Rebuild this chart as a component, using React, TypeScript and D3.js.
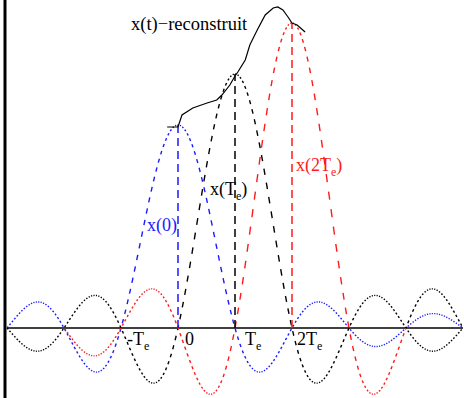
import React from "react";
import * as d3 from "d3";

// Sampling instants (in units of Te) and sampled values x(nTe)
const SAMPLE_T = [0, 1, 2];
const SAMPLE_VALUES = [2.03, 2.54, 3.05];
const SAMPLE_NAMES = ["0", "T", "2T"];

// Reconstructed signal x(t), read as (t, value) pairs
const RECON_T = [-0.19, 0.0, 0.07, 0.26, 0.51, 0.68, 0.77, 0.91, 1.0, 1.05, 1.18, 1.26, 1.39, 1.53, 1.67, 1.75, 1.84, 1.93, 2.0, 2.09, 2.23];
const RECON_V = [2.01, 2.01, 2.13, 2.2, 2.25, 2.28, 2.33, 2.43, 2.52, 2.56, 2.68, 2.83, 2.98, 3.13, 3.2, 3.21, 3.18, 3.11, 3.05, 3.03, 2.96];

// Axis tick labels
const TICK_T = [-1, 0, 1, 2];
const TICK_MAIN = ["-T", "0", "T", "2T"];
const TICK_SUB = ["e", "", "e", "e"];

const W = 464;
const H = 398;
const BLUE = "#1a1aff";
const RED = "#ff1a1a";
const BLACK = "#000";

const x = d3.scaleLinear().domain([-3, 5]).range([7, 463]);
const y = d3.scaleLinear().domain([0, 1]).range([328, 228]);

const sinc = (u: number) => (Math.abs(u) < 1e-9 ? 1 : Math.sin(Math.PI * u) / (Math.PI * u));

// Kernel pieces: which sample, t range, and stroke colour
const pieces = [
  { k: 0, from: -3, to: 5, color: BLUE },
  { k: 1, from: -3, to: 5, color: BLACK },
  { k: 2, from: -2, to: 4, color: RED },
  { k: 2, from: 4, to: 5, color: BLACK },
];

// Dashes are laid out along the horizontal pixel axis, giving long dashes on
// steep flanks and dots on the flat lobes.
const PERIOD = 2.4;
const ON = 1.1;
function dashedRuns(k: number, from: number, to: number): [number, number][][] {
  const runs: [number, number][][] = [];
  const px0 = x(from);
  const px1 = x(to);
  let cur: [number, number][] | null = null;
  const step = 0.1;
  for (let px = px0; px <= px1 + 1e-6; px += step) {
    const phase = (((px - 7) % PERIOD) + PERIOD) % PERIOD;
    const t = x.invert(px);
    const v = SAMPLE_VALUES[k] * sinc(t - SAMPLE_T[k]);
    const pt: [number, number] = [px, y(v)];
    if (phase < ON) {
      if (!cur) {
        cur = [];
        runs.push(cur);
      }
      cur.push(pt);
    } else if (cur) {
      cur.push(pt);
      cur = null;
    }
  }
  return runs;
}

const line = d3.line<[number, number]>().x((d) => d[0]).y((d) => d[1]);
const reconLine = d3
  .line<number>()
  .x((_, i) => x(RECON_T[i]))
  .y((_, i) => y(RECON_V[i]));

const serif = "'Liberation Serif', 'Times New Roman', Times, serif";

export default function App() {
  const tickDx = [6, 7, 10, 5];
  const txt = { fontFamily: serif };
  return (
    <svg width={W} height={H} style={{ position: "absolute", left: 0, top: 0, background: "#fff" }}>
      <rect width={W} height={H} fill="#fff" />
      {/* left frame */}
      <line x1={5} x2={5} y1={0} y2={H} stroke={BLACK} strokeWidth={3} />
      {/* time axis */}
      <line x1={x(-3)} x2={x(5)} y1={y(0)} y2={y(0)} stroke={BLACK} strokeWidth={1.5} />

      {/* interpolating kernels */}
      {pieces.map((p, i) =>
        dashedRuns(p.k, p.from, p.to).map((run, j) => (
          <path key={`${i}-${j}`} d={line(run) || ""} fill="none" stroke={p.color} strokeWidth={1.4} />
        ))
      )}

      {/* sample stems */}
      {SAMPLE_T.map((t, i) => (
        <line
          key={`stem-${i}`}
          x1={x(t)}
          x2={x(t)}
          y1={y(0)}
          y2={y(SAMPLE_VALUES[i])}
          stroke={[BLUE, BLACK, RED][i]}
          strokeWidth={1.5}
          strokeDasharray="8 5"
        />
      ))}

      {/* reconstructed signal */}
      <path d={reconLine(RECON_T) || ""} fill="none" stroke={BLACK} strokeWidth={1.2} />

      <text x={131} y={30} fontSize={18.5} fill={BLACK} style={txt}>
        x(t)−reconstruit
      </text>

      {/* sample labels */}
      <text x={147} y={231} fontSize={18} fill={BLUE} style={txt}>
        x({SAMPLE_NAMES[0]})
      </text>
      <text x={210} y={195} fontSize={18} fill={BLACK} style={txt}>
        x({SAMPLE_NAMES[1]}
        <tspan fontSize={12} dy={5}>e</tspan>
        <tspan dy={-5}>)</tspan>
      </text>
      <text x={296} y={171} fontSize={18} fill={RED} style={txt}>
        x({SAMPLE_NAMES[2]}
        <tspan fontSize={12} dy={5}>e</tspan>
        <tspan dy={-5}>)</tspan>
      </text>

      {/* tick labels */}
      {TICK_T.map((t, i) => (
        <text key={`tick-${i}`} x={x(t) + tickDx[i]} y={345} fontSize={18} fill={BLACK} style={txt}>
          {TICK_MAIN[i]}
          {TICK_SUB[i] && (
            <tspan fontSize={12} dy={5}>
              {TICK_SUB[i]}
            </tspan>
          )}
        </text>
      ))}
    </svg>
  );
}
